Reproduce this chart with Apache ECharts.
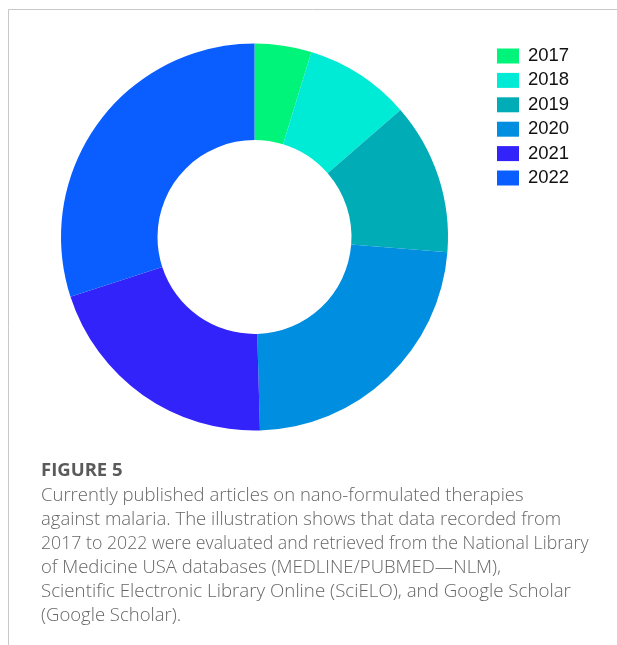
<!DOCTYPE html>
<html>
<head>
<meta charset="utf-8">
<script src="https://cdn.jsdelivr.net/npm/echarts@6/dist/echarts.min.js"></script>
<style>
html,body{margin:0;padding:0;background:#fff;}
#chart{width:617px;height:645px;}
</style>
</head>
<body>
<div id="chart"></div>
<script>
var years = ['2017', '2018', '2019', '2020', '2021', '2022'];
var shares = [4.75, 8.85, 12.65, 23.3, 20.45, 30.0];
var sliceColors = ['#00F47A', '#00EBD6', '#00ADB6', '#008EE0', '#3223FA', '#0A5EFF'];
var figureLabel = 'FIGURE 5';
var captionLines = [
  'Currently published articles on nano-formulated therapies',
  'against malaria. The illustration shows that data recorded from',
  '2017 to 2022 were evaluated and retrieved from the National Library',
  'of Medicine USA databases (MEDLINE/PUBMED\u2014NLM),',
  'Scientific Electronic Library Online (SciELO), and Google Scholar',
  '(Google Scholar).'
];

var chart = echarts.init(document.getElementById('chart'), null, {renderer: 'canvas'});

var graphics = [
  {type: 'line', shape: {x1: 8.5, y1: 9.5, x2: 617, y2: 9.5}, style: {stroke: '#c8c8c8', lineWidth: 1}},
  {type: 'line', shape: {x1: 8.5, y1: 9.5, x2: 8.5, y2: 645}, style: {stroke: '#c8c8c8', lineWidth: 1}},
  {type: 'text', x: 41, y: 471, style: {text: figureLabel, fill: '#5a5a5a', font: 'bold 18.5px "Open Sans", sans-serif', verticalAlign: 'middle'}}
];
captionLines.forEach(function (t, i) {
  graphics.push({
    type: 'text', x: 41, y: 495.5 + i * 24,
    scaleX: i === 2 ? 0.958 : (i === 4 ? 1.012 : 1),
    style: {text: t, fill: '#666666', font: '300 18.5px "Open Sans", sans-serif', verticalAlign: 'middle'}
  });
});

chart.setOption({
  animation: false,
  color: sliceColors,
  legend: {
    orient: 'vertical',
    left: 492,
    top: 41.5,
    itemWidth: 22,
    itemHeight: 15,
    itemGap: 5.4,
    icon: 'rect',
    data: years,
    textStyle: {fontFamily: '"Liberation Sans", Arial, sans-serif', fontSize: 18.5, color: '#111', lineHeight: 18, padding: [0, 0, 0, 4]}
  },
  series: [{
    type: 'pie',
    center: [254.5, 237],
    radius: [97, 193.5],
    startAngle: 90,
    clockwise: true,
    label: {show: false},
    labelLine: {show: false},
    itemStyle: {borderWidth: 0},
    data: years.map(function (y, i) { return {name: y, value: shares[i]}; })
  }],
  graphic: graphics
});
</script>
</body>
</html>
